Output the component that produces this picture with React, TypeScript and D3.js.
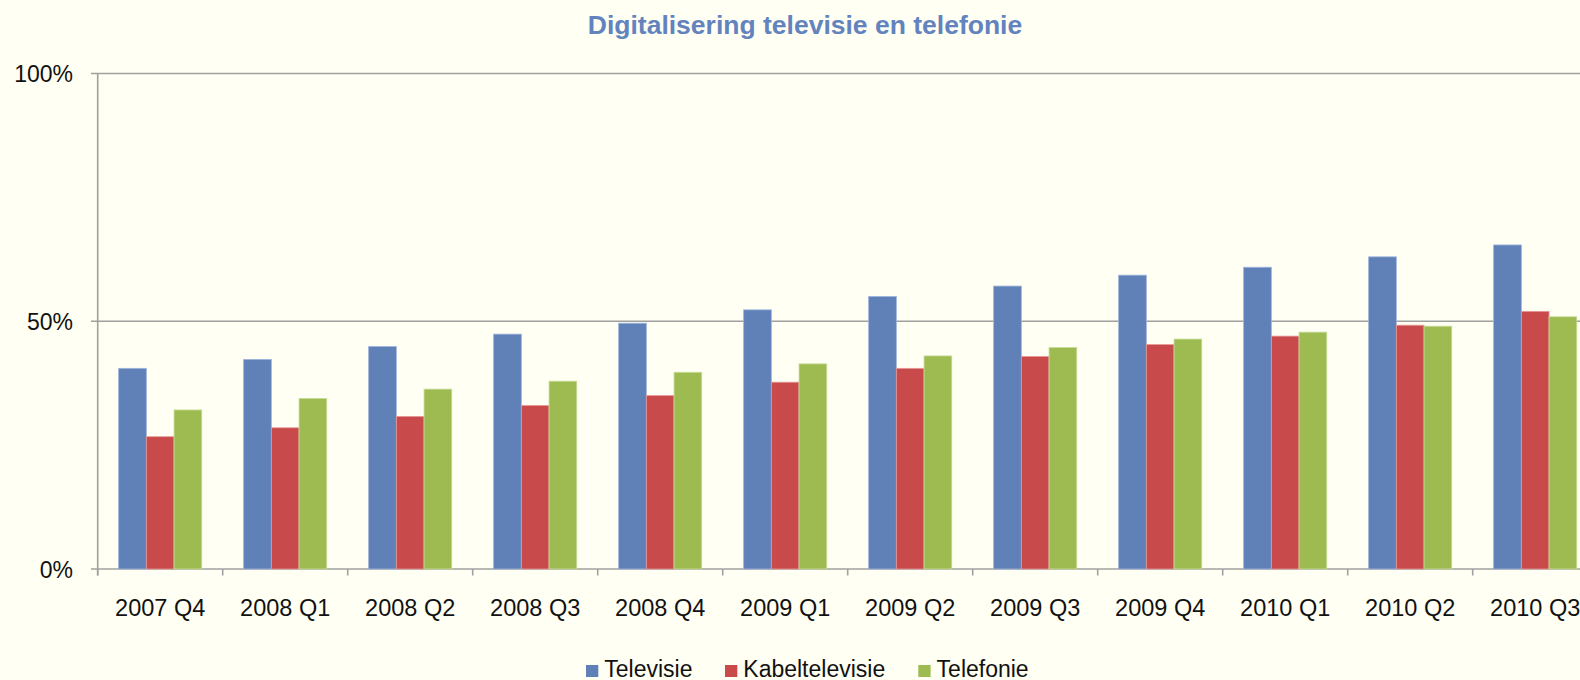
import React, { useEffect } from "react";
import * as d3 from "d3";

const categories = [
  "2007 Q4", "2008 Q1", "2008 Q2", "2008 Q3", "2008 Q4", "2009 Q1",
  "2009 Q2", "2009 Q3", "2009 Q4", "2010 Q1", "2010 Q2", "2010 Q3",
];
const seriesNames = ["Televisie", "Kabeltelevisie", "Telefonie"];
const televisie = [40.5, 42.3, 44.9, 47.4, 49.6, 52.3, 55.0, 57.1, 59.3, 60.9, 63.0, 65.4];
const kabeltelevisie = [26.7, 28.5, 30.8, 33.0, 35.0, 37.7, 40.5, 42.9, 45.3, 47.0, 49.2, 52.0];
const telefonie = [32.1, 34.4, 36.3, 37.9, 39.7, 41.4, 43.0, 44.7, 46.4, 47.8, 49.0, 50.9];
const yTicks = [0, 50, 100];
const title = "Digitalisering televisie en telefonie";

const seriesValues = [televisie, kabeltelevisie, telefonie];
const colors = ["#6080b8", "#c84a4a", "#9dbb50"];
const strokes = ["#9fb5dc", "#e69a9a", "#c8dc98"];

const W = 1580;
const H = 680;
const axisX = 97.7;
const y0 = 569;
const y100 = 73.5;
const band = 125;

export default function App() {
  useEffect(() => {
    document.body.style.margin = "0";
    document.body.style.background = "#fffff3";
  }, []);

  const x0 = d3
    .scaleBand<string>()
    .domain(categories)
    .range([axisX, axisX + band * categories.length])
    .paddingInner(0)
    .paddingOuter(0);
  const x1 = d3
    .scaleBand<string>()
    .domain(seriesNames)
    .range([0, x0.bandwidth()])
    .paddingInner(0)
    .paddingOuter(0.756);
  const y = d3.scaleLinear().domain([0, 100]).range([y0, y100]);

  const font = "'Liberation Sans', Arial, sans-serif";
  const gridColor = "#a0a0a0";

  return (
    <svg width={W} height={H} style={{ display: "block", background: "#fffff3" }} fontFamily={font}>
      <rect x={0} y={0} width={W} height={H} fill="#fffff3" />
      <text x={805} y={34} textAnchor="middle" fontWeight="bold" fontSize={26.5} fill="#6283be">
        {title}
      </text>

      {yTicks.map((t) => (
        <g key={t}>
          <line x1={91} x2={W} y1={y(t)} y2={y(t)} stroke={gridColor} strokeWidth={1.6} />
          <text x={73} y={y(t) + 8.5} textAnchor="end" fontSize={23} fill="#111">
            {t}%
          </text>
        </g>
      ))}
      <line x1={axisX} x2={axisX} y1={y100} y2={y0 + 6.5} stroke={gridColor} strokeWidth={1.6} />

      {categories.map((c) => (
        <line
          key={"t" + c}
          x1={x0(c)!}
          x2={x0(c)!}
          y1={y0}
          y2={y0 + 6.5}
          stroke={gridColor}
          strokeWidth={1.6}
        />
      ))}

      {categories.map((c, i) => (
        <g key={c} transform={`translate(${x0(c)},0)`}>
          {seriesNames.map((s, k) => {
            const v = seriesValues[k][i];
            return (
              <rect
                key={s}
                x={x1(s)!}
                y={y(v)}
                width={x1.bandwidth()}
                height={y0 - y(v)}
                fill={colors[k]}
                stroke={strokes[k]}
                strokeWidth={0.8}
              />
            );
          })}
        </g>
      ))}

      {categories.map((c) => (
        <text
          key={"l" + c}
          x={x0(c)! + x0.bandwidth() / 2}
          y={616}
          textAnchor="middle"
          fontSize={23.5}
          fill="#111"
        >
          {c}
        </text>
      ))}

      {seriesNames.map((s, k) => {
        const lx = [586, 725, 918.3][k];
        return (
          <g key={"lg" + s}>
            <rect x={lx} y={665} width={12.3} height={12} fill={colors[k]} />
            <text x={lx + 18.3} y={677} fontSize={23} fill="#111">
              {s}
            </text>
          </g>
        );
      })}
    </svg>
  );
}
